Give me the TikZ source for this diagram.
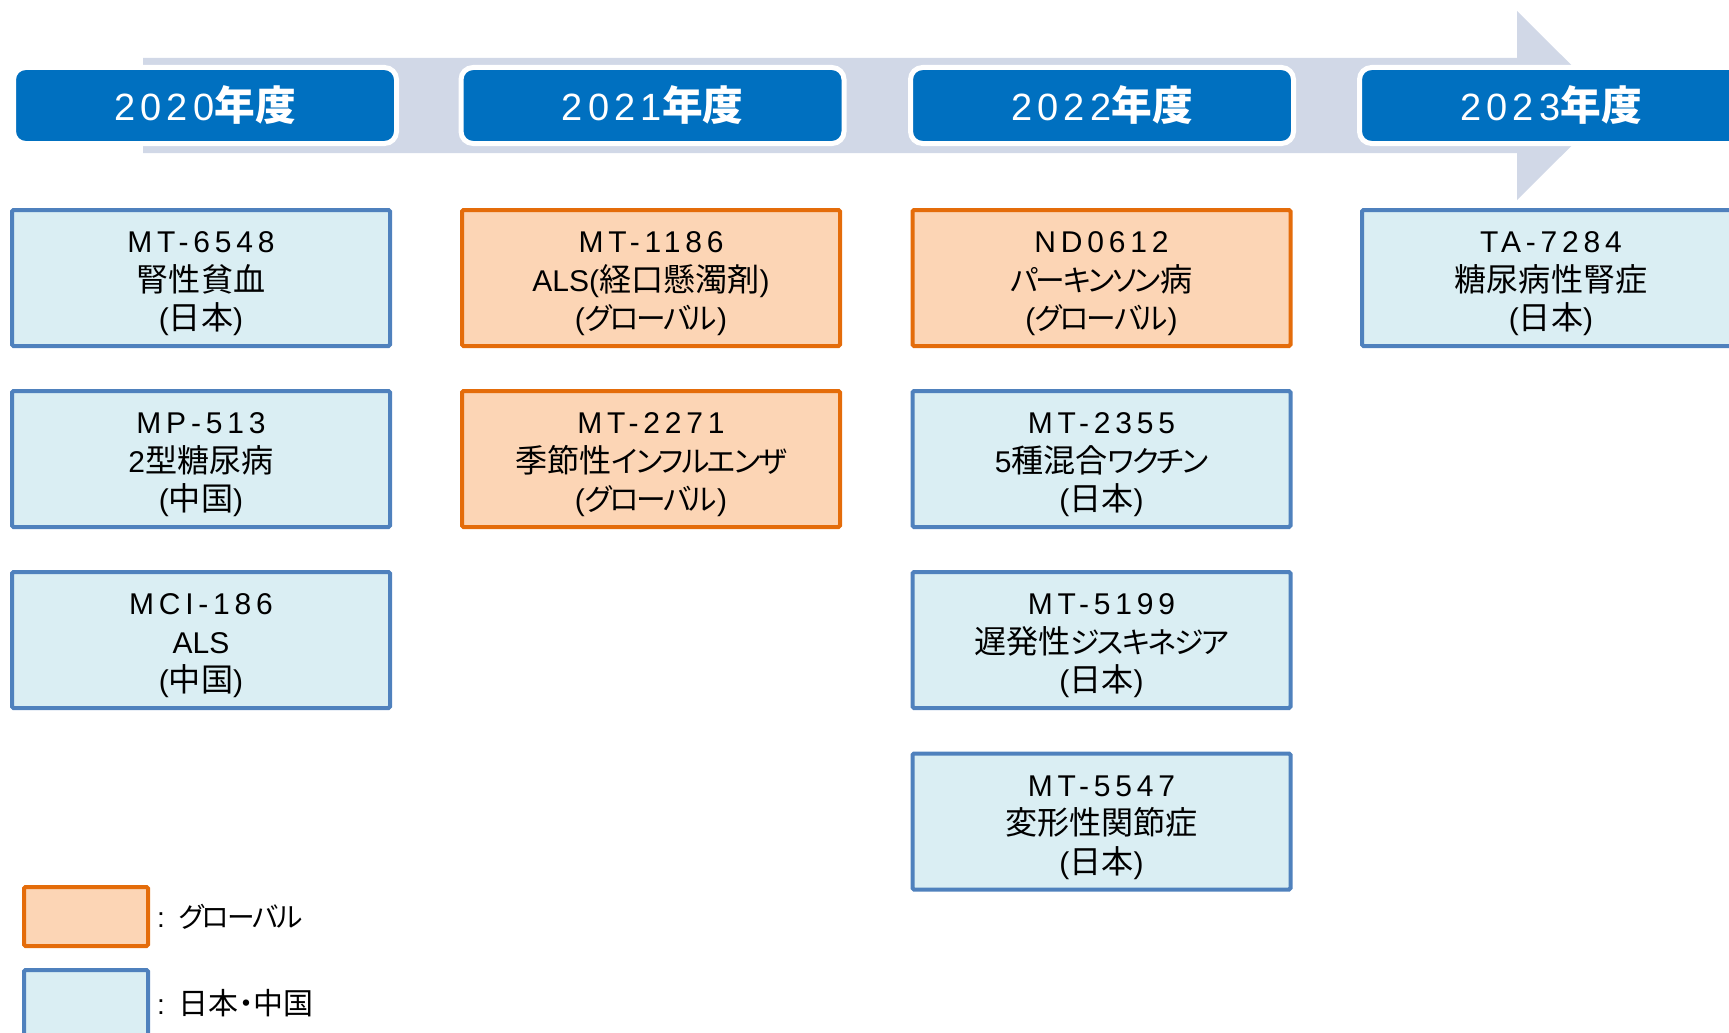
\documentclass[tikz,border=0pt]{standalone}
\usepackage{fontspec}
\setmainfont{Liberation Sans}
\newfontfamily\latsp[LetterSpace=16]{Liberation Sans}
\newfontfamily\hdsp[LetterSpace=14]{Liberation Sans}
\newfontfamily\jp[Scale=1.07,RawFeature=+palt]{Noto Sans CJK JP}
\newfontfamily\jpk[Scale=0.99,RawFeature=+palt,LetterSpace=-7]{Noto Sans CJK JP}
\newcommand\J[1]{{\jp #1}}
\newcommand\K[1]{{\jpk #1}}
\definecolor{bandcol}{HTML}{D1D8E7}
\definecolor{hdblue}{HTML}{0070C0}
\definecolor{orbd}{HTML}{E46C0A}
\definecolor{orfill}{HTML}{FCD5B5}
\definecolor{blbd}{HTML}{4F81BD}
\definecolor{blfill}{HTML}{DAEEF3}
\tikzset{
  yearbox/.style={rectangle, rounded corners=12pt, fill=hdblue, draw=white, line width=5pt,
    minimum width=383pt, minimum height=76pt, inner sep=0pt},
  yeartext/.style={text=white, inner sep=0pt, font=\fontsize{38}{42}\selectfont},
  glbox/.style={rectangle, draw=orbd, fill=orfill, line width=4pt, rounded corners=1.5pt,
    minimum width=378pt, minimum height=136pt, inner sep=0pt},
  jcbox/.style={rectangle, draw=blbd, fill=blfill, line width=4pt, rounded corners=1.5pt,
    minimum width=378pt, minimum height=136pt, inner sep=0pt},
  legglbox/.style={glbox, minimum width=124pt, minimum height=59pt},
  legjcbox/.style={jcbox, minimum width=124pt, minimum height=66pt},
  boxtext/.style={align=center, inner sep=0pt, text=black, yshift=-6pt,
    font=\fontsize{30}{38.5}\selectfont},
  legtext/.style={anchor=west, inner sep=0pt, text=black, font=\fontsize{28}{34}\selectfont}
}
\begin{document}
\begin{tikzpicture}[x=1pt,y=-1pt]
\useasboundingbox (0,0) rectangle (1729,1033);
% timeline arrow
\fill[bandcol] (143,58) -- (1517,58) -- (1517,11) -- (1612,105.5) -- (1517,200)
  -- (1517,153) -- (143,153) -- cycle;
% year headers
\node[yearbox] (y20) at (205,105.5) {};
\node[yearbox] (y21) at (652.5,105.5) {};
\node[yearbox] (y22) at (1102,105.5) {};
\node[yearbox] (y23) at (1551,105.5) {};
\node[yeartext] (y20t) at (y20.center) {\hdsp 2020{\jp\bfseries 年度}};
\node[yeartext] (y21t) at (y21.center) {\hdsp 2021{\jp\bfseries 年度}};
\node[yeartext] (y22t) at (y22.center) {\hdsp 2022{\jp\bfseries 年度}};
\node[yeartext] (y23t) at (y23.center) {\hdsp 2023{\jp\bfseries 年度}};
% column 2020
\node[jcbox] (a1) at (201,278) {};
\node[boxtext] (a1t) at (a1.center) {{\latsp MT-6548}\\\J{腎性貧血}\\(\J{日本})};
\node[jcbox] (a2) at (201,459) {};
\node[boxtext] (a2t) at (a2.center) {{\latsp MP-513}\\2\J{型糖尿病}\\(\J{中国})};
\node[jcbox] (a3) at (201,640) {};
\node[boxtext] (a3t) at (a3.center) {{\latsp MCI-186}\\ALS\\(\J{中国})};
% column 2021
\node[glbox] (b1) at (651,278) {};
\node[boxtext] (b1t) at (b1.center) {{\latsp MT-1186}\\ALS(\J{経口懸濁剤})\\(\K{グローバル})};
\node[glbox] (b2) at (651,459) {};
\node[boxtext] (b2t) at (b2.center) {{\latsp MT-2271}\\\J{季節性}\K{インフルエンザ}\\(\K{グローバル})};
% column 2022
\node[glbox] (c1) at (1101.5,278) {};
\node[boxtext] (c1t) at (c1.center) {{\latsp ND0612}\\\K{パーキンソン}\J{病}\\(\K{グローバル})};
\node[jcbox] (c2) at (1101.5,459) {};
\node[boxtext] (c2t) at (c2.center) {{\latsp MT-2355}\\5\J{種混合}\K{ワクチン}\\(\J{日本})};
\node[jcbox] (c3) at (1101.5,640) {};
\node[boxtext] (c3t) at (c3.center) {{\latsp MT-5199}\\\J{遅発性}\K{ジスキネジア}\\(\J{日本})};
\node[jcbox] (c4) at (1101.5,821.5) {};
\node[boxtext] (c4t) at (c4.center) {{\latsp MT-5547}\\\J{変形性関節症}\\(\J{日本})};
% column 2023
\node[jcbox] (d1) at (1551,278) {};
\node[boxtext] (d1t) at (d1.center) {{\latsp TA-7284}\\\J{糖尿病性腎症}\\(\J{日本})};
% legend
\node[legglbox] (lg1) at (86,916.5) {};
\node[legtext] (lg1t) at (157,917) {:\hspace{14pt}\K{グローバル}};
\node[legjcbox] (lg2) at (86,1003) {};
\node[legtext] (lg2t) at (157,1003) {:\hspace{14pt}\J{日本・中国}};
\end{tikzpicture}
\end{document}
